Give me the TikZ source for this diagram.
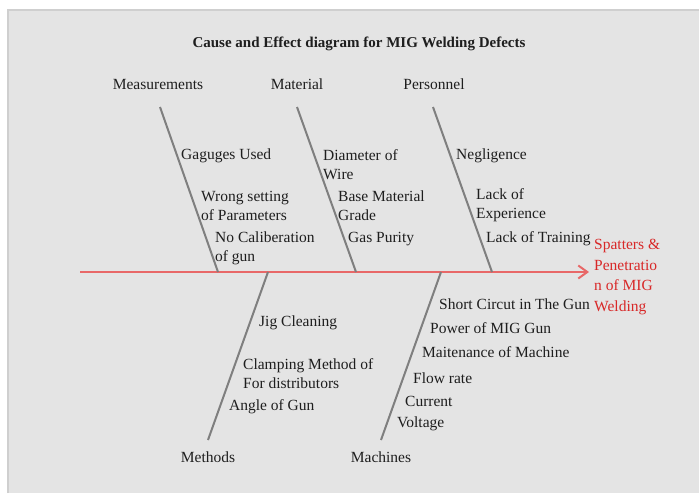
\documentclass[tikz,border=0pt]{standalone}
\usepackage{fontspec}
\setmainfont{Liberation Serif}
\usetikzlibrary{arrows.meta}
\definecolor{bgc}{HTML}{E4E4E4}
\definecolor{edgec}{HTML}{CFCFCF}
\definecolor{bonec}{HTML}{7F7F7F}
\definecolor{spinec}{HTML}{E86868}
\definecolor{effc}{HTML}{D82828}
\definecolor{txtc}{HTML}{1E1E1E}
\newcommand{\cfont}{\fontsize{15.5}{19}\selectfont}
\tikzset{
  cause/.style={anchor=west, inner sep=0pt, align=left, font=\cfont, text=txtc},
  cat/.style={anchor=center, inner sep=0pt, font=\cfont, text=txtc},
  bone/.style={draw=bonec, line width=2pt},
  spineln/.style={draw=spinec, line width=2pt, -{Straight Barb[length=9pt,width=13pt,line width=2pt]}},
}
\begin{document}
\begin{tikzpicture}[x=1pt,y=-1pt]
\useasboundingbox (0,0) rectangle (699,493);
\fill[bgc] (8,10) rectangle (699,493);
\draw[edgec, line width=2pt] (8,493) -- (8,10) -- (699,10);

\node[font=\bfseries\fontsize{15}{18}\selectfont, text=txtc, inner sep=0pt] (title) at (359,44) {Cause and Effect diagram for MIG Welding Defects};

% category labels
\node[cat] (meas) at (158,84) {Measurements};
\node[cat] (mat) at (297,84) {Material};
\node[cat] (pers) at (434,84) {Personnel};
\node[cat] (meth) at (208,457) {Methods};
\node[cat] (mach) at (381,457) {Machines};

% spine
\coordinate (tail) at (80,272);
\coordinate (head) at (589,272);
\draw[spineln] (tail) -- (head);
\node[anchor=north west, inner sep=0pt, align=left, font=\fontsize{15.5}{20.7}\selectfont, text=effc] (effect) at (594,239) {Spatters \&\\Penetratio\\n of MIG\\Welding};

% bones
\coordinate (measT) at (160,107);
\coordinate (measB) at (218,272);
\coordinate (matT) at (297,107);
\coordinate (matB) at (356,272);
\coordinate (persT) at (433,107);
\coordinate (persB) at (492,272);
\coordinate (methT) at (268,272);
\coordinate (methB) at (208,440);
\coordinate (machT) at (441,272);
\coordinate (machB) at (381,440);
\draw[bone] (measT) -- (measB);
\draw[bone] (matT) -- (matB);
\draw[bone] (persT) -- (persB);
\draw[bone] (methT) -- (methB);
\draw[bone] (machT) -- (machB);

% causes
\node[cause] (c1) at (181,156) {Gaguges Used};
\node[cause] (c2) at (201,205.5) {Wrong setting\\of Parameters};
\node[cause] (c3) at (215,248.5) {No Caliberation\\of gun};
\node[cause] (c4) at (323,165) {Diameter of\\Wire};
\node[cause] (c5) at (338,205.5) {Base Material\\Grade};
\node[cause] (c6) at (348,239) {Gas Purity};
\node[cause] (c7) at (456,156) {Negligence};
\node[cause] (c8) at (476,205.5) {Lack of\\Experience};
\node[cause] (c9) at (486,239) {Lack of Training};
\node[cause] (c10) at (259,323) {Jig Cleaning};
\node[cause] (c11) at (243,373.5) {Clamping Method of\\For distributors};
\node[cause] (c12) at (229,407) {Angle of Gun};
\node[cause] (c13) at (439,304) {Short Circut in The Gun};
\node[cause] (c14) at (430,328) {Power of MIG Gun};
\node[cause] (c15) at (422,352) {Maitenance of Machine};
\node[cause] (c16) at (413,378) {Flow rate};
\node[cause] (c17) at (405,401) {Current};
\node[cause] (c18) at (397,424) {Voltage};
\end{tikzpicture}
\end{document}
